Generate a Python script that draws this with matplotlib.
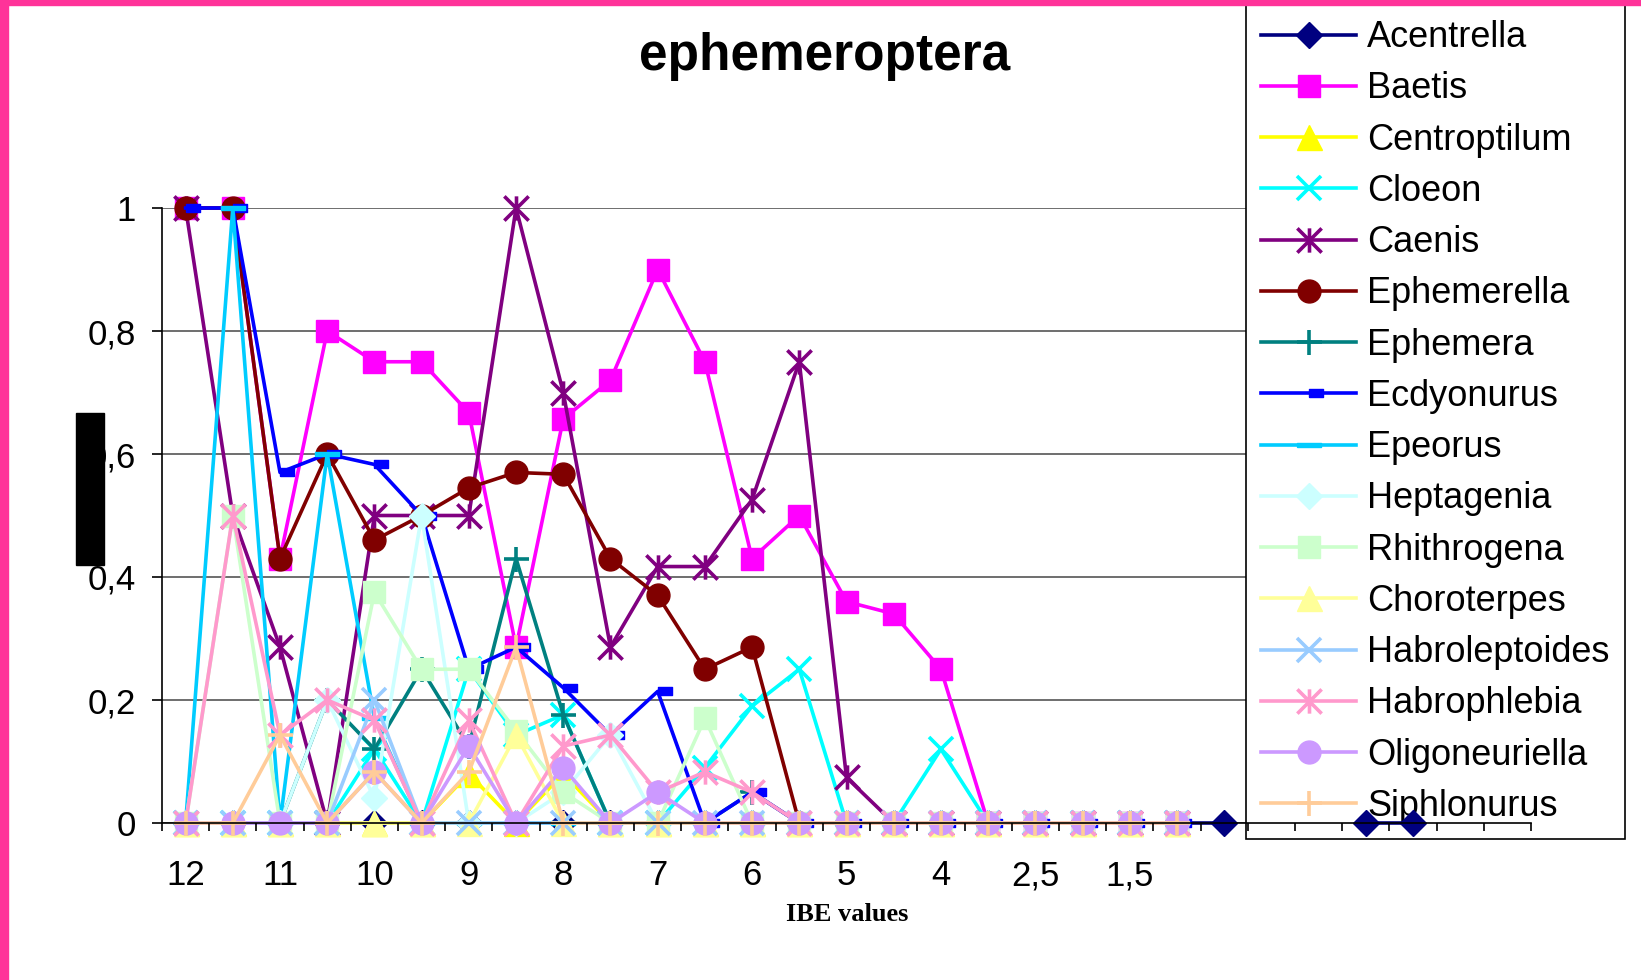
import numpy as np
import matplotlib.pyplot as plt
from matplotlib.path import Path
from matplotlib.patches import Rectangle

plt.rcParams['font.family'] = ['Liberation Sans', 'DejaVu Sans']

# IBE classes on the x axis (only every other one gets a label)
ibe_values = ['12', '11,5', '11', '10,5', '10', '9,5', '9', '8,5', '8', '7,5',
              '7', '6,5', '6', '5,5', '5', '4,5', '4', '3', '2,5', '2',
              '1,5', '1', '', '', '', '', '', '', '']

nan = np.nan
acentrella = [0, 0, 0, 0, 0, 0, 0, 0, 0, 0, 0, 0, 0, 0, 0, 0, 0, 0, 0, 0, 0, 0, 0, nan, nan, 0, 0, nan, nan]
baetis = [1, 1, 0.43, 0.8, 0.75, 0.75, 0.667, 0.286, 0.657, 0.72, 0.9, 0.75, 0.43, 0.5, 0.36, 0.34, 0.25, 0, 0, 0, 0, 0]
centroptilum = [0, 0, 0, 0, 0, 0, 0.08, 0, 0.08, 0, 0, 0, 0, 0, 0, 0, 0, 0, 0, 0, 0, 0]
cloeon = [0, 0, 0, 0, 0.12, 0, 0.25, 0.143, 0.176, 0, 0, 0.09, 0.19, 0.25, 0, 0, 0.12, 0, 0, 0, 0, 0]
caenis = [1, 0.5, 0.286, 0, 0.5, 0.5, 0.5, 1, 0.7, 0.286, 0.417, 0.417, 0.526, 0.75, 0.074, 0, 0, 0, 0, 0, 0, 0]
ephemerella = [1, 1, 0.43, 0.6, 0.46, 0.5, 0.545, 0.57, 0.567, 0.43, 0.37, 0.25, 0.286, 0, 0, 0, 0, 0, 0, 0, 0, 0]
ephemera = [0, 0, 0, 0.2, 0.12, 0.25, 0.125, 0.43, 0.176, 0, 0, 0, 0.05, 0, 0, 0, 0, 0, 0, 0, 0, 0]
ecdyonurus = [1, 1, 0.57, 0.6, 0.583, 0.5, 0.25, 0.286, 0.22, 0.143, 0.214, 0, 0.05, 0, 0, 0, 0, 0, 0, 0, 0, 0]
epeorus = [0, 1, 0, 0.6, 0.17, 0, 0, 0, 0, 0, 0, 0, 0, 0, 0, 0, 0, 0, 0, 0, 0, 0]
heptagenia = [0, 0, 0, 0.2, 0.04, 0.5, 0, 0, 0.05, 0.143, 0, 0, 0, 0, 0, 0, 0, 0, 0, 0, 0, 0]
rhithrogena = [0, 0.5, 0, 0, 0.375, 0.25, 0.25, 0.15, 0.05, 0, 0, 0.17, 0, 0, 0, 0, 0, 0, 0, 0, 0, 0]
choroterpes = [0, 0, 0, 0, 0, 0, 0, 0.143, 0, 0, 0, 0, 0, 0, 0, 0, 0, 0, 0, 0, 0, 0]
habroleptoides = [0, 0, 0, 0, 0.2, 0, 0, 0, 0, 0, 0, 0, 0, 0, 0, 0, 0, 0, 0, 0, 0, 0]
habrophlebia = [0, 0.5, 0.143, 0.2, 0.167, 0, 0.167, 0, 0.125, 0.143, 0.05, 0.083, 0.05, 0, 0, 0, 0, 0, 0, 0, 0, 0]
oligoneuriella = [0, 0, 0, 0, 0.083, 0, 0.125, 0, 0.09, 0, 0.05, 0, 0, 0, 0, 0, 0, 0, 0, 0, 0, 0]
siphlonurus = [0, 0, 0.143, 0, 0.083, 0, 0.083, 0.286, 0, 0, 0, 0, 0, 0, 0, 0, 0, 0, 0, 0, 0, 0]

# excel-like markers
M, L = Path.MOVETO, Path.LINETO
asterisk = Path([(-1, -1), (1, 1), (-1, 1), (1, -1), (0, -1), (0, 1)], [M, L, M, L, M, L])
short_dash = Path([(0, -0.28), (1, -0.28), (1, 0.28), (0, 0.28), (0, -0.28)])
long_dash = Path([(-1, -0.2), (1, -0.2), (1, 0.2), (-1, 0.2), (-1, -0.2)])

series = [
    ('Acentrella', acentrella, '#000080', 'D', 13),
    ('Baetis', baetis, '#FF00FF', 's', 16),
    ('Centroptilum', centroptilum, '#FFFF00', '^', 18),
    ('Cloeon', cloeon, '#00FFFF', 'x', 17),
    ('Caenis', caenis, '#800080', asterisk, 17.5),
    ('Ephemerella', ephemerella, '#800000', 'o', 16.5),
    ('Ephemera', ephemera, '#008080', '+', 18),
    ('Ecdyonurus', ecdyonurus, '#0000FF', short_dash, 20),
    ('Epeorus', epeorus, '#00CCFF', long_dash, 17),
    ('Heptagenia', heptagenia, '#CCFFFF', 'D', 13),
    ('Rhithrogena', rhithrogena, '#CCFFCC', 's', 16),
    ('Choroterpes', choroterpes, '#FFFF99', '^', 18),
    ('Habroleptoides', habroleptoides, '#99CCFF', 'x', 17),
    ('Habrophlebia', habrophlebia, '#FF99CC', asterisk, 17.5),
    ('Oligoneuriella', oligoneuriella, '#CC99FF', 'o', 16.5),
    ('Siphlonurus', siphlonurus, '#FFCC99', '+', 18),
]

fig = plt.figure(figsize=(16.41, 9.8), dpi=100)
ax = fig.add_axes([162 / 1641, 1 - 823 / 980, (1531 - 162) / 1641, (823 - 208) / 980])

for name, vals, col, mk, ms in series:
    x = np.arange(len(vals))
    stroke = mk in ('x', '+') or mk is asterisk
    ax.plot(x, vals, color=col, lw=2.6, marker=mk, markersize=ms,
            markerfacecolor=col, markeredgecolor=col,
            markeredgewidth=2.6 if stroke else 1, label=name, clip_on=False)

ax.set_xlim(-0.5, len(ibe_values) - 0.5)
ax.set_ylim(0, 1)

# category boundaries get the tick marks, labels sit on every other class
ax.set_xticks(np.arange(-0.5, len(ibe_values)), labels=[])
ax.set_xticks(np.arange(0, len(ibe_values), 2), labels=ibe_values[::2], minor=True)
ax.tick_params(axis='x', which='major', direction='out', length=6, width=1.2)
ax.tick_params(axis='x', which='minor', length=0, pad=26, labelsize=25)

ax.set_yticks(np.arange(0, 1.01, 0.2), labels=['0', '0,2', '0,4', '0,6', '0,8', '1'])
ax.tick_params(axis='y', direction='out', length=7, width=1.2, pad=12, labelsize=25)

ax.yaxis.grid(True, color='#555555', lw=1.2)
ax.set_axisbelow(True)
# x ticks stay above the legend box, gridlines go under it
ax.xaxis.set_zorder(2.5)
for s in ['top', 'right']:
    ax.spines[s].set_visible(False)
for s in ['left', 'bottom']:
    ax.spines[s].set_linewidth(1.2)

leg = ax.legend(loc='upper left', bbox_to_anchor=(1246 / 1641, 1 - 5 / 980),
                bbox_transform=fig.transFigure, fontsize=26, frameon=True,
                fancybox=False, edgecolor='black', framealpha=1, numpoints=1,
                handlelength=2.63, handletextpad=0.3, borderpad=0.42,
                labelspacing=0.45, borderaxespad=0)
leg.get_frame().set_linewidth(1.2)
leg.set_zorder(1)

fig.text(825 / 1641, 1 - 70 / 980, 'ephemeroptera', ha='center', va='baseline',
         fontsize=37, fontweight='bold')
fig.text(847 / 1641, 1 - 914 / 980, 'IBE values', ha='center', va='center',
         fontsize=19, fontweight='bold', family='Liberation Serif')

# pink frame on left and top, black box over the y label
fig.patches.append(Rectangle((0, 0), 8 / 1641, 1, transform=fig.transFigure, color='#FF3399'))
fig.patches.append(Rectangle((0, 1 - 5 / 980), 1, 5 / 980, transform=fig.transFigure, color='#FF3399'))
fig.patches.append(Rectangle((76 / 1641, 1 - 565 / 980), 28 / 1641, 152 / 980,
                             transform=fig.transFigure, color='black'))

fig.savefig('out.png', dpi=100)
